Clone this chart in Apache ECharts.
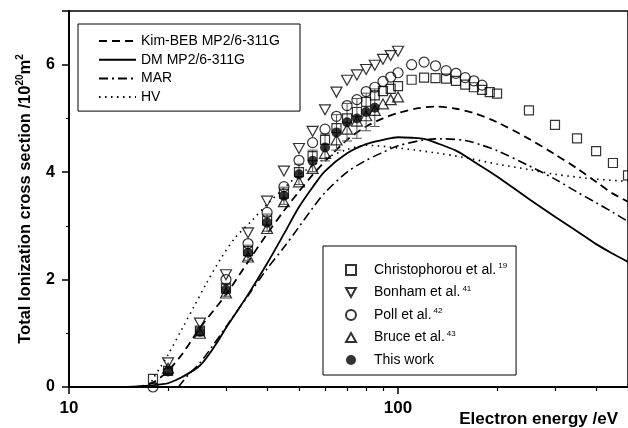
<!DOCTYPE html>
<html>
<head>
<meta charset="utf-8">
<script src="https://cdn.jsdelivr.net/npm/echarts@6/dist/echarts.min.js"></script>
<style>
html, body { margin: 0; padding: 0; background: #fff; }
#chart { width: 628px; height: 428px; }
</style>
</head>
<body>
<div id="chart"></div>
<script>
// electron energy (eV) / total ionization cross section (1e-20 m^2)

// theory curves
const kimE = [16, 17, 18, 19, 20, 22, 25, 30, 35, 40, 45, 50, 55, 60, 70, 80, 90, 100, 115, 130, 150, 170, 200, 250, 300, 350, 400, 450, 500]
const kimQ = [0, 0.03, 0.08, 0.18, 0.3, 0.6, 1.1, 1.72, 2.33, 2.85, 3.28, 3.64, 3.95, 4.2, 4.6, 4.85, 5.0, 5.1, 5.19, 5.22, 5.18, 5.1, 4.93, 4.62, 4.33, 4.07, 3.82, 3.6, 3.45]

const dmE = [15, 17, 19, 20, 22, 25, 28, 30, 35, 40, 45, 50, 55, 60, 70, 80, 90, 100, 110, 120, 130, 150, 180, 200, 250, 300, 350, 400, 450, 500]
const dmQ = [0, 0.02, 0.05, 0.07, 0.18, 0.4, 0.8, 1.1, 1.72, 2.3, 2.85, 3.35, 3.72, 4.02, 4.35, 4.52, 4.6, 4.65, 4.64, 4.62, 4.55, 4.4, 4.1, 3.92, 3.5, 3.17, 2.9, 2.66, 2.48, 2.33]

const marE = [21.5, 23, 25, 27, 30, 35, 40, 45, 50, 55, 60, 70, 80, 90, 100, 120, 135, 160, 180, 200, 250, 300, 350, 400, 450, 500]
const marQ = [0, 0.22, 0.45, 0.72, 1.12, 1.7, 2.2, 2.6, 2.98, 3.33, 3.62, 4.0, 4.22, 4.37, 4.49, 4.6, 4.62, 4.59, 4.5, 4.4, 4.12, 3.87, 3.63, 3.43, 3.25, 3.08]

const hvE = [17.5, 18, 19, 20, 22, 24, 26, 29, 32, 36, 40, 45, 50, 60, 70, 80, 100, 130, 160, 200, 250, 300, 400, 500]
const hvQ = [0, 0.15, 0.38, 0.6, 1.07, 1.5, 1.9, 2.4, 2.78, 3.1, 3.4, 3.7, 3.95, 4.25, 4.42, 4.5, 4.45, 4.36, 4.27, 4.15, 4.05, 3.96, 3.87, 3.83]

// measurements
const chrisE = [18, 20, 25, 30, 35, 40, 45, 50, 55, 60, 65, 70, 75, 80, 85, 90, 95, 100, 110, 120, 130, 140, 150, 160, 170, 180, 190, 200, 250, 300, 350, 400, 450, 500]
const chrisQ = [0.15, 0.3, 1.05, 1.83, 2.53, 3.1, 3.6, 4.0, 4.3, 4.6, 4.82, 5.0, 5.12, 5.31, 5.43, 5.51, 5.55, 5.6, 5.72, 5.76, 5.75, 5.74, 5.7, 5.63, 5.58, 5.53, 5.49, 5.46, 5.15, 4.88, 4.63, 4.39, 4.17, 3.94]

const bonhamE = [20, 25, 30, 35, 40, 45, 50, 55, 60, 65, 70, 75, 80, 85, 90, 95, 100]
const bonhamQ = [0.45, 1.19, 2.09, 2.87, 3.46, 4.02, 4.44, 4.76, 5.16, 5.49, 5.71, 5.81, 5.91, 5.99, 6.1, 6.17, 6.25]

const pollE = [18, 30, 35, 40, 45, 50, 55, 60, 65, 70, 75, 80, 85, 90, 95, 100, 110, 120, 130, 140, 150, 160, 170, 180]
const pollQ = [0, 2.0, 2.67, 3.25, 3.73, 4.22, 4.55, 4.8, 5.04, 5.24, 5.35, 5.5, 5.58, 5.69, 5.77, 5.85, 6.0, 6.05, 5.98, 5.89, 5.84, 5.76, 5.7, 5.62]

const bruceE = [20, 25, 30, 35, 40, 45, 50, 55, 60, 65, 70, 75, 80, 85, 90, 95, 100]
const bruceQ = [0.35, 1.0, 1.75, 2.42, 2.95, 3.45, 3.82, 4.07, 4.35, 4.6, 4.8, 4.95, 5.05, 5.15, 5.27, 5.35, 5.4]

const thisE = [20, 25, 30, 35, 40, 45, 50, 55, 60, 65, 70, 75, 80, 85]
const thisQ = [0.29, 1.03, 1.81, 2.5, 3.06, 3.56, 3.96, 4.21, 4.46, 4.74, 4.93, 5.0, 5.12, 5.2]
const thisErr = [0.06, 0.08, 0.12, 0.14, 0.16, 0.16, 0.19, 0.2, 0.25, 0.33, 0.35, 0.37, 0.35, 0.35]

// axis ticks
const xLabelTicks = [10, 100]
const xMinorTicks = [20, 30, 40, 50, 60, 70, 80, 90, 200, 300, 400, 500]

const lineNames = ['Kim-BEB MP2/6-311G', 'DM MP2/6-311G', 'MAR', 'HV']
const pointNames = ['Christophorou et al.', 'Bonham et al.', 'Poll et al.', 'Bruce et al.', 'This work']
const pointRefs = ['19', '41', '42', '43', '']

const FONT = '"Liberation Sans", Arial, sans-serif'
const zip = (xs, ys) => xs.map((x, i) => [x, ys[i]])

const chart = echarts.init(document.getElementById('chart'))

const lineSeries = (name, xs, ys, type, width) => ({
  name,
  type: 'line',
  data: zip(xs, ys),
  symbol: 'none',
  smooth: 0.3,
  lineStyle: { color: '#000', width: width, type: type },
  itemStyle: { color: '#000' },
  z: 2
})

const hollow = { color: 'rgba(0,0,0,0)', borderColor: '#000', borderWidth: 1.2 }

const pointSeries = (name, xs, ys, symbol, size) => ({
  name,
  type: 'scatter',
  data: zip(xs, ys),
  symbol,
  symbolSize: size,
  itemStyle: hollow,
  z: 4
})

const refOf = {}
pointNames.forEach((n, i) => { refOf[n] = pointRefs[i] })

chart.setOption({
  animation: false,
  backgroundColor: '#fff',
  textStyle: { fontFamily: FONT, color: '#000' },
  grid: {
    left: 69, top: 11, right: -2, bottom: 41,
    show: true, borderColor: '#000', borderWidth: 1.5
  },
  legend: [
    {
      data: lineNames,
      orient: 'vertical',
      left: 78, top: 24,
      padding: [10, 20, 7, 20],
      itemWidth: 37, itemHeight: 14, itemGap: 4.7,
      borderColor: '#000', borderWidth: 1,
      selectedMode: false,
      // line sample only, no marker
      itemStyle: { opacity: 0, color: 'rgba(0,0,0,0)', borderWidth: 0 },
      textStyle: { fontFamily: FONT, fontSize: 14, color: '#000', lineHeight: 14 }
    },
    {
      data: pointNames,
      orient: 'vertical',
      left: 323, top: 246,
      padding: [16, 9, 7, 22],
      itemWidth: 10, itemHeight: 10, itemGap: 6.5,
      borderColor: '#000', borderWidth: 1,
      selectedMode: false,
      formatter: name => refOf[name] ? name + '{sup|' + refOf[name] + '}' : name,
      textStyle: {
        fontFamily: FONT, fontSize: 14, color: '#000', lineHeight: 16, padding: [0, 0, 0, 13],
        rich: { sup: { fontFamily: FONT, fontSize: 8, color: '#000', verticalAlign: 'top', lineHeight: 10, padding: [0, 0, 0, 2] } }
      }
    }
  ],
  xAxis: [
    {
      type: 'log', logBase: 10, min: 10, max: 500,
      name: 'Electron energy /eV',
      nameLocation: 'end', nameGap: -10,
      nameTextStyle: { fontFamily: FONT, fontWeight: 'bold', fontSize: 17, color: '#000', align: 'right', verticalAlign: 'top', padding: [24, 0, 0, 0] },
      axisLine: { onZero: false, lineStyle: { color: '#000', width: 2 } },
      axisTick: { customValues: xLabelTicks, length: 7, lineStyle: { color: '#000', width: 1.5 } },
      axisLabel: { customValues: xLabelTicks, margin: 13, fontFamily: FONT, fontWeight: 'bold', fontSize: 17, color: '#000' },
      splitLine: { show: false }
    },
    {
      type: 'log', logBase: 10, min: 10, max: 500, position: 'bottom',
      axisLine: { show: false, onZero: false },
      axisTick: { customValues: xMinorTicks, length: 4, lineStyle: { color: '#000', width: 1.2 } },
      axisLabel: { show: false },
      splitLine: { show: false }
    }
  ],
  yAxis: {
    type: 'value', min: 0, max: 7, interval: 2,
    name: 'Total Ionization cross section /10{sup|20}m{sup|2}',
    nameLocation: 'middle', nameGap: 33,
    nameTextStyle: {
      fontFamily: FONT, fontWeight: 'bold', fontSize: 16.5, color: '#000', lineHeight: 20,
      rich: { sup: { fontFamily: FONT, fontWeight: 'bold', fontSize: 10, color: '#000', verticalAlign: 'top', lineHeight: 12 } }
    },
    axisLine: { show: true, lineStyle: { color: '#000', width: 2 } },
    axisTick: { length: 7, lineStyle: { color: '#000', width: 1.5 } },
    minorTick: { show: true, splitNumber: 2, length: 3, lineStyle: { color: '#000', width: 1 } },
    axisLabel: { showMaxLabel: false, margin: 14, fontFamily: FONT, fontWeight: 'bold', fontSize: 16, color: '#000' },
    splitLine: { show: false }
  },
  series: [
    lineSeries(lineNames[0], kimE, kimQ, [8, 5], 1.8),
    lineSeries(lineNames[1], dmE, dmQ, 'solid', 1.8),
    lineSeries(lineNames[2], marE, marQ, [9, 4, 2, 4], 1.6),
    lineSeries(lineNames[3], hvE, hvQ, [1.5, 4.5], 1.6),
    {
      name: 'error',
      type: 'custom',
      data: thisE.map((e, i) => [e, thisQ[i] - thisErr[i], thisQ[i] + thisErr[i]]),
      encode: { x: 0, y: [1, 2] },
      renderItem: (params, api) => {
        const lo = api.coord([api.value(0), api.value(1)])
        const hi = api.coord([api.value(0), api.value(2)])
        const w = 5
        const st = { stroke: '#555', lineWidth: 1 }
        return {
          type: 'group',
          children: [
            { type: 'line', shape: { x1: lo[0], y1: lo[1], x2: hi[0], y2: hi[1] }, style: st },
            { type: 'line', shape: { x1: lo[0] - w, y1: lo[1], x2: lo[0] + w, y2: lo[1] }, style: st },
            { type: 'line', shape: { x1: hi[0] - w, y1: hi[1], x2: hi[0] + w, y2: hi[1] }, style: st }
          ]
        }
      },
      z: 3
    },
    pointSeries(pointNames[0], chrisE, chrisQ, 'rect', 9),
    pointSeries(pointNames[1], bonhamE, bonhamQ, 'path://M0,0L20,0L10,18Z', [11, 10]),
    pointSeries(pointNames[2], pollE, pollQ, 'circle', 10),
    pointSeries(pointNames[3], bruceE, bruceQ, 'path://M10,0L20,18L0,18Z', [11, 10]),
    {
      name: pointNames[4],
      type: 'scatter',
      data: zip(thisE, thisQ),
      symbol: 'circle',
      symbolSize: 10,
      itemStyle: { color: '#000' },
      z: 5
    }
  ]
})
</script>
</body>
</html>
